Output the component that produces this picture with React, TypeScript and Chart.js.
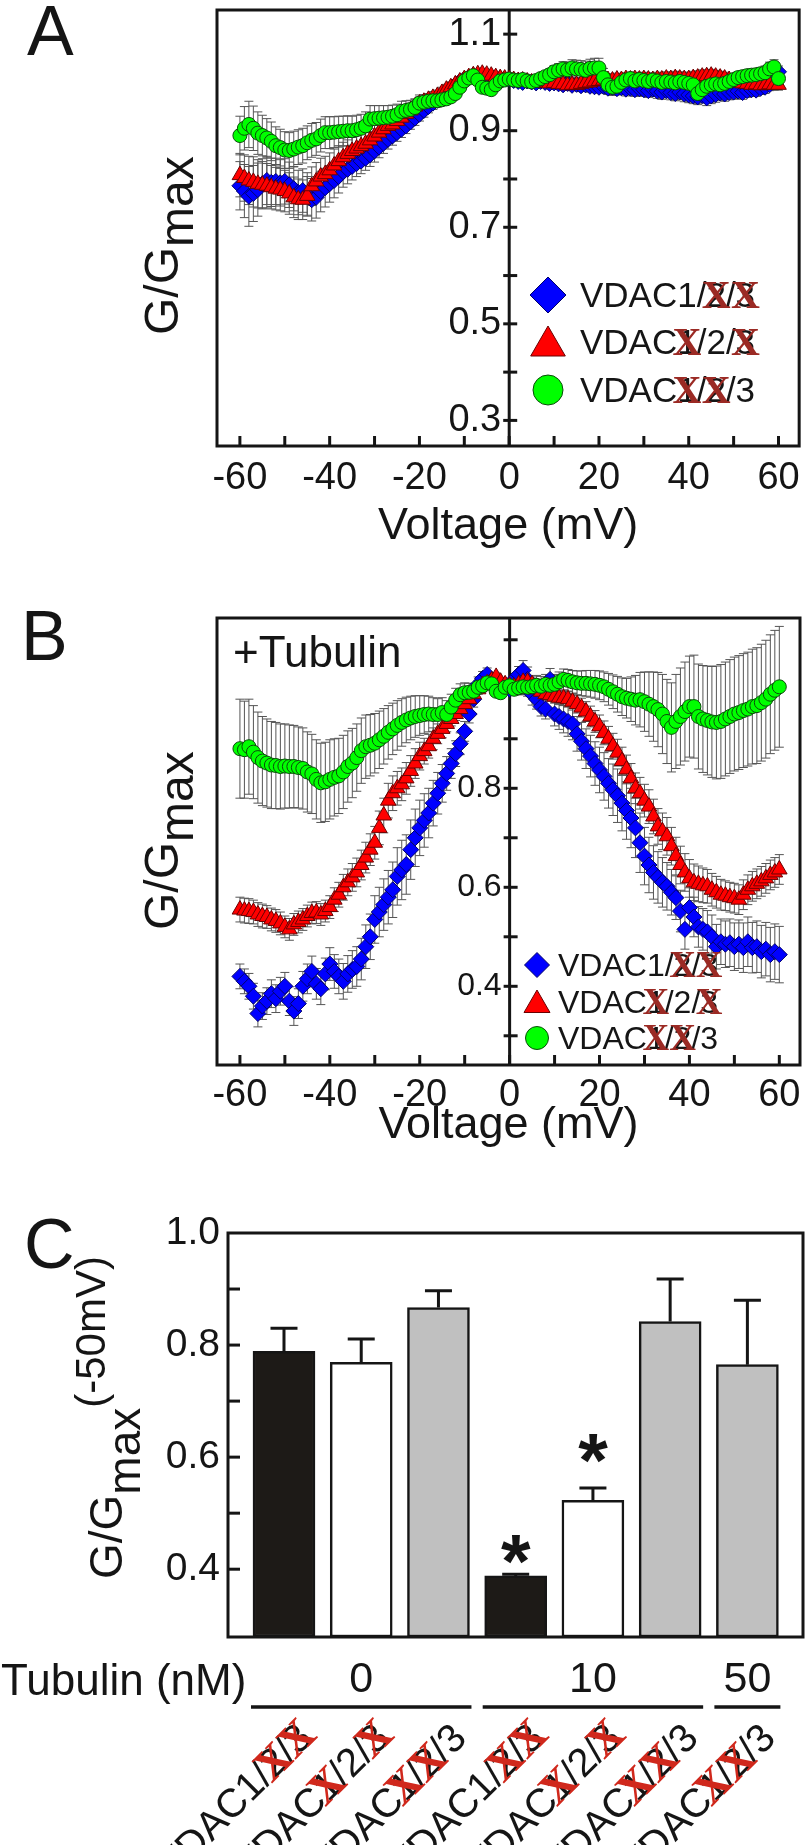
import React, { useEffect, useRef } from 'react';
import { Chart, registerables } from 'chart.js';

Chart.register(...registerables);

const FONT = "'Liberation Sans', Arial, Helvetica, sans-serif";
const SERIF = "'Liberation Serif', 'Times New Roman', serif";
const INK = '#151515';

// ---------------- DATA ----------------
const VOLTAGES = [
  -60, -59, -58, -57, -56, -55, -54, -53, -52, -51, -50, -49, -48, -47, -46, -45, -44, -43, -42, -41,
  -40, -39, -38, -37, -36, -35, -34, -33, -32, -31, -30, -29, -28, -27, -26, -25, -24, -23, -22, -21,
  -20, -19, -18, -17, -16, -15, -14, -13, -12, -11, -10, -9, -8, -7, -6, -5, -4, -3, -2, -1,
  0, 1, 2, 3, 4, 5, 6, 7, 8, 9, 10, 11, 12, 13, 14, 15, 16, 17, 18, 19,
  20, 21, 22, 23, 24, 25, 26, 27, 28, 29, 30, 31, 32, 33, 34, 35, 36, 37, 38, 39,
  40, 41, 42, 43, 44, 45, 46, 47, 48, 49, 50, 51, 52, 53, 54, 55, 56, 57, 58, 59, 60,
];

// Panel A (no tubulin)
const A_VDAC1 = [
  0.786, 0.775, 0.764, 0.770, 0.778, 0.790, 0.797, 0.793, 0.795, 0.792,
  0.795, 0.788, 0.780, 0.772, 0.776, 0.768, 0.757, 0.762, 0.774, 0.782,
  0.790, 0.797, 0.805, 0.815, 0.820, 0.826, 0.832, 0.837, 0.843, 0.850,
  0.858, 0.866, 0.874, 0.882, 0.889, 0.896, 0.903, 0.910, 0.918, 0.926,
  0.934, 0.942, 0.950, 0.957, 0.963, 0.968, 0.975, 0.985, 0.995, 1.002,
  1.007, 1.011, 1.014, 1.012, 1.010, 1.008, 1.007, 1.006, 1.008, 1.007,
  1.007, 1.004, 1.002, 1.000, 1.003, 1.001, 0.999, 1.002, 1.000, 0.998,
  0.999, 0.997, 0.995, 0.998, 0.994, 0.996, 0.993, 0.995, 0.992, 0.991,
  0.990, 0.992, 0.988, 0.990, 0.987, 0.989, 0.986, 0.988, 0.985, 0.987,
  0.985, 0.983, 0.986, 0.982, 0.980, 0.983, 0.979, 0.977, 0.980, 0.976,
  0.974, 0.972, 0.970, 0.973, 0.968, 0.972, 0.975, 0.978, 0.976, 0.979,
  0.980, 0.982, 0.979, 0.983, 0.985, 0.984, 0.988, 0.990, 0.995, 1.010,
  1.022,
];
const A_VDAC1_ERR = [
  0.050, 0.055, 0.062, 0.058, 0.055, 0.052, 0.050, 0.050, 0.048, 0.048,
  0.047, 0.047, 0.046, 0.046, 0.045, 0.045, 0.044, 0.043, 0.042, 0.040,
  0.038, 0.036, 0.034, 0.032, 0.030, 0.028, 0.027, 0.026, 0.025, 0.024,
  0.023, 0.022, 0.021, 0.020, 0.019, 0.018, 0.017, 0.016, 0.015, 0.015,
  0.014, 0.014, 0.013, 0.013, 0.012, 0.012, 0.011, 0.011, 0.010, 0.010,
  0.009, 0.009, 0.008, 0.008, 0.008, 0.007, 0.007, 0.006, 0.006, 0.005,
  0.004, 0.005, 0.006, 0.006, 0.007, 0.007, 0.008, 0.008, 0.009, 0.009,
  0.010, 0.010, 0.010, 0.011, 0.011, 0.011, 0.012, 0.012, 0.012, 0.012,
  0.012, 0.013, 0.013, 0.013, 0.013, 0.013, 0.014, 0.014, 0.014, 0.014,
  0.014, 0.014, 0.015, 0.015, 0.015, 0.015, 0.015, 0.015, 0.016, 0.016,
  0.016, 0.016, 0.016, 0.016, 0.016, 0.016, 0.016, 0.015, 0.015, 0.015,
  0.015, 0.015, 0.014, 0.014, 0.014, 0.013, 0.013, 0.013, 0.012, 0.012,
  0.012,
];
const A_VDAC2 = [
  0.808, 0.802, 0.797, 0.794, 0.790, 0.788, 0.786, 0.783, 0.780, 0.778,
  0.775, 0.770, 0.762, 0.758, 0.757, 0.765, 0.785, 0.795, 0.805, 0.810,
  0.818, 0.828, 0.837, 0.845, 0.852, 0.858, 0.863, 0.868, 0.873, 0.880,
  0.888, 0.896, 0.903, 0.910, 0.913, 0.920, 0.927, 0.935, 0.942, 0.950,
  0.956, 0.960, 0.964, 0.968, 0.972, 0.978, 0.985, 0.990, 0.996, 1.002,
  1.007, 1.011, 1.015, 1.017, 1.018, 1.016, 1.014, 1.011, 1.009, 1.008,
  1.007, 1.005, 1.003, 1.004, 1.002, 1.000, 1.001, 0.999, 1.000, 0.998,
  0.999, 0.997, 0.996, 0.994, 0.995, 0.995, 0.997, 0.999, 1.000, 1.002,
  1.003, 1.004, 1.005, 1.004, 1.006, 1.005, 1.007, 1.006, 1.007, 1.006,
  1.007, 1.006, 1.005, 1.007, 1.006, 1.008, 1.007, 1.009, 1.008, 1.007,
  1.007, 1.009, 1.010, 1.012, 1.013, 1.014, 1.012, 1.010, 1.008, 1.005,
  1.003, 1.000, 0.998, 0.997, 0.995, 0.996, 0.994, 0.995, 0.996, 0.995,
  0.995,
];
const A_VDAC2_ERR = [
  0.045, 0.048, 0.050, 0.052, 0.050, 0.048, 0.046, 0.045, 0.044, 0.044,
  0.043, 0.043, 0.042, 0.042, 0.041, 0.040, 0.040, 0.039, 0.038, 0.037,
  0.036, 0.034, 0.032, 0.031, 0.029, 0.028, 0.027, 0.026, 0.025, 0.024,
  0.023, 0.022, 0.021, 0.020, 0.019, 0.018, 0.017, 0.016, 0.015, 0.015,
  0.014, 0.014, 0.013, 0.013, 0.012, 0.012, 0.011, 0.011, 0.010, 0.010,
  0.009, 0.009, 0.008, 0.008, 0.007, 0.007, 0.006, 0.006, 0.005, 0.005,
  0.004, 0.005, 0.005, 0.006, 0.006, 0.007, 0.007, 0.008, 0.008, 0.009,
  0.009, 0.010, 0.010, 0.010, 0.011, 0.011, 0.011, 0.012, 0.012, 0.012,
  0.012, 0.012, 0.013, 0.013, 0.013, 0.013, 0.013, 0.013, 0.014, 0.014,
  0.014, 0.014, 0.014, 0.014, 0.014, 0.014, 0.014, 0.014, 0.014, 0.014,
  0.014, 0.014, 0.014, 0.014, 0.013, 0.013, 0.013, 0.013, 0.013, 0.013,
  0.012, 0.012, 0.012, 0.012, 0.012, 0.011, 0.011, 0.011, 0.011, 0.011,
  0.011,
];
const A_VDAC3 = [
  0.890, 0.905, 0.913, 0.905, 0.895, 0.890, 0.885, 0.878, 0.869, 0.865,
  0.860, 0.859, 0.862, 0.866, 0.869, 0.875, 0.880, 0.883, 0.890, 0.896,
  0.896, 0.897, 0.898, 0.899, 0.900, 0.900, 0.902, 0.905, 0.910, 0.924,
  0.925, 0.926, 0.927, 0.928, 0.930, 0.933, 0.940, 0.942, 0.944, 0.948,
  0.957, 0.959, 0.961, 0.962, 0.962, 0.964, 0.966, 0.970, 0.977, 0.990,
  1.003, 1.009, 1.014, 1.005, 0.990, 0.988, 0.985, 0.995, 1.003, 1.005,
  1.007, 1.005, 1.004, 1.006, 1.003, 1.001, 1.004, 1.008, 1.012, 1.016,
  1.022, 1.025, 1.028, 1.026, 1.030, 1.028, 1.027, 1.025, 1.029, 1.030,
  1.030, 1.010, 0.995, 0.990, 0.992, 1.000, 1.005, 1.008, 1.003, 1.006,
  1.004, 1.002, 1.005, 1.003, 1.000, 1.002, 1.001, 0.999, 1.002, 1.000,
  0.998, 0.995, 0.977, 0.985, 0.992, 0.995, 0.997, 0.995, 0.998, 1.002,
  1.006, 1.010, 1.012, 1.014, 1.015, 1.016, 1.018, 1.020, 1.028, 1.032,
  1.008,
];
const A_VDAC3_ERR = [
  0.040, 0.045, 0.048, 0.046, 0.044, 0.042, 0.040, 0.040, 0.039, 0.038,
  0.038, 0.037, 0.037, 0.036, 0.036, 0.035, 0.035, 0.034, 0.034, 0.033,
  0.033, 0.032, 0.032, 0.031, 0.031, 0.030, 0.030, 0.029, 0.029, 0.028,
  0.027, 0.026, 0.025, 0.024, 0.023, 0.022, 0.021, 0.020, 0.019, 0.018,
  0.017, 0.016, 0.015, 0.014, 0.013, 0.012, 0.011, 0.010, 0.009, 0.009,
  0.008, 0.008, 0.007, 0.007, 0.006, 0.006, 0.005, 0.005, 0.004, 0.004,
  0.003, 0.004, 0.005, 0.006, 0.007, 0.008, 0.009, 0.010, 0.011, 0.012,
  0.013, 0.014, 0.015, 0.016, 0.017, 0.018, 0.018, 0.019, 0.019, 0.020,
  0.020, 0.019, 0.018, 0.017, 0.016, 0.015, 0.014, 0.013, 0.013, 0.012,
  0.012, 0.011, 0.011, 0.010, 0.010, 0.010, 0.010, 0.010, 0.011, 0.011,
  0.011, 0.012, 0.012, 0.012, 0.013, 0.013, 0.013, 0.013, 0.012, 0.012,
  0.012, 0.012, 0.012, 0.012, 0.013, 0.013, 0.013, 0.014, 0.014, 0.015,
  0.015,
];

// Panel B (+ tubulin)
const B_VDAC1 = [
  0.420, 0.410, 0.400, 0.380, 0.345, 0.360, 0.370, 0.385, 0.375, 0.390,
  0.400, 0.370, 0.350, 0.365, 0.400, 0.415, 0.430, 0.405, 0.395, 0.425,
  0.445, 0.430, 0.420, 0.410, 0.425, 0.434, 0.440, 0.455, 0.480, 0.500,
  0.535, 0.550, 0.565, 0.580, 0.595, 0.622, 0.635, 0.646, 0.676, 0.700,
  0.720, 0.735, 0.750, 0.770, 0.790, 0.810, 0.830, 0.850, 0.870, 0.890,
  0.915, 0.950, 0.980, 1.010, 1.022, 1.030, 1.018, 1.011, 1.007, 1.003,
  1.000, 1.020, 1.030, 1.038, 1.020, 0.990, 0.980, 0.965, 0.960, 1.020,
  0.950, 0.945, 0.940, 0.935, 0.930, 0.910, 0.895, 0.880, 0.865, 0.850,
  0.837, 0.824, 0.810, 0.797, 0.785, 0.770, 0.755, 0.740, 0.720, 0.690,
  0.663, 0.645, 0.630, 0.620, 0.610, 0.602, 0.590, 0.579, 0.552, 0.515,
  0.559, 0.540, 0.520, 0.515, 0.510, 0.500, 0.480, 0.490, 0.485, 0.488,
  0.480, 0.485, 0.478, 0.490, 0.478, 0.480, 0.470, 0.475, 0.464, 0.470,
  0.464,
];
const B_VDAC1_ERR = [
  0.025, 0.025, 0.026, 0.026, 0.027, 0.027, 0.027, 0.028, 0.028, 0.028,
  0.028, 0.029, 0.029, 0.030, 0.030, 0.030, 0.031, 0.031, 0.032, 0.032,
  0.033, 0.034, 0.035, 0.036, 0.037, 0.038, 0.040, 0.042, 0.044, 0.046,
  0.048, 0.050, 0.052, 0.054, 0.056, 0.058, 0.060, 0.060, 0.060, 0.058,
  0.056, 0.054, 0.050, 0.046, 0.042, 0.038, 0.034, 0.030, 0.026, 0.022,
  0.020, 0.018, 0.016, 0.015, 0.014, 0.013, 0.012, 0.011, 0.010, 0.010,
  0.010, 0.012, 0.016, 0.020, 0.025, 0.022, 0.020, 0.019, 0.020, 0.022,
  0.024, 0.026, 0.028, 0.030, 0.032, 0.035, 0.038, 0.040, 0.042, 0.044,
  0.046, 0.048, 0.050, 0.052, 0.054, 0.056, 0.058, 0.060, 0.060, 0.060,
  0.058, 0.056, 0.054, 0.052, 0.050, 0.048, 0.046, 0.044, 0.042, 0.040,
  0.040, 0.040, 0.041, 0.042, 0.043, 0.044, 0.045, 0.046, 0.047, 0.048,
  0.048, 0.049, 0.050, 0.050, 0.051, 0.052, 0.053, 0.054, 0.055, 0.056,
  0.057,
];
const B_VDAC2 = [
  0.555, 0.553, 0.552, 0.550, 0.545, 0.542, 0.540, 0.535, 0.532, 0.527,
  0.520, 0.515, 0.525, 0.530, 0.535, 0.542, 0.548, 0.549, 0.545, 0.552,
  0.560, 0.575, 0.585, 0.600, 0.610, 0.620, 0.630, 0.645, 0.660, 0.676,
  0.690, 0.720, 0.745, 0.775, 0.790, 0.800, 0.808, 0.820, 0.835, 0.850,
  0.865, 0.875, 0.885, 0.900, 0.910, 0.920, 0.930, 0.940, 0.950, 0.960,
  0.970, 0.980, 0.990, 1.000, 1.008, 1.012, 1.018, 1.025, 1.015, 1.010,
  1.007, 1.005, 1.010, 1.015, 1.015, 1.010, 1.000, 0.995, 0.990, 0.988,
  0.985, 0.983, 0.982, 0.980, 0.975, 0.970, 0.963, 0.955, 0.945, 0.935,
  0.925, 0.912, 0.900, 0.885, 0.872, 0.855, 0.838, 0.820, 0.800, 0.790,
  0.775, 0.763, 0.743, 0.723, 0.713, 0.703, 0.683, 0.663, 0.645, 0.630,
  0.618, 0.610, 0.607, 0.604, 0.602, 0.595, 0.590, 0.585, 0.583, 0.580,
  0.578, 0.575, 0.585, 0.595, 0.602, 0.607, 0.612, 0.618, 0.625, 0.630,
  0.636,
];
const B_VDAC2_ERR = [
  0.025, 0.025, 0.025, 0.024, 0.024, 0.024, 0.023, 0.023, 0.023, 0.023,
  0.022, 0.022, 0.022, 0.022, 0.022, 0.022, 0.022, 0.022, 0.022, 0.022,
  0.023, 0.024, 0.025, 0.026, 0.027, 0.028, 0.029, 0.030, 0.031, 0.032,
  0.033, 0.034, 0.035, 0.035, 0.035, 0.034, 0.033, 0.032, 0.031, 0.030,
  0.028, 0.026, 0.024, 0.022, 0.020, 0.018, 0.016, 0.014, 0.013, 0.012,
  0.011, 0.010, 0.010, 0.009, 0.009, 0.008, 0.008, 0.008, 0.008, 0.008,
  0.008, 0.008, 0.009, 0.009, 0.010, 0.010, 0.011, 0.011, 0.012, 0.012,
  0.013, 0.014, 0.015, 0.016, 0.017, 0.018, 0.019, 0.020, 0.021, 0.022,
  0.023, 0.024, 0.025, 0.026, 0.027, 0.028, 0.029, 0.030, 0.031, 0.032,
  0.033, 0.034, 0.035, 0.036, 0.037, 0.038, 0.038, 0.038, 0.038, 0.038,
  0.038, 0.037, 0.036, 0.035, 0.034, 0.033, 0.032, 0.031, 0.030, 0.030,
  0.030, 0.030, 0.030, 0.030, 0.030, 0.030, 0.030, 0.030, 0.030, 0.030,
  0.030,
];
const B_VDAC3 = [
  0.880, 0.878, 0.884, 0.873, 0.862, 0.855, 0.851, 0.847, 0.846, 0.844,
  0.845, 0.844, 0.844, 0.842, 0.840, 0.833, 0.829, 0.818, 0.811, 0.813,
  0.818, 0.822, 0.825, 0.833, 0.844, 0.851, 0.862, 0.876, 0.884, 0.887,
  0.891, 0.898, 0.905, 0.913, 0.920, 0.927, 0.933, 0.938, 0.942, 0.945,
  0.947, 0.949, 0.950, 0.949, 0.949, 0.953, 0.949, 0.964, 0.978, 0.989,
  0.993, 0.994, 0.996, 1.004, 1.007, 1.013, 1.011, 0.996, 0.993, 1.004,
  1.007, 1.000, 1.003, 1.005, 1.004, 1.005, 1.008, 1.006, 1.010, 1.008,
  1.010, 1.015, 1.020, 1.018, 1.015, 1.013, 1.012, 1.012, 1.011, 1.010,
  1.008, 1.005, 1.000, 0.995, 0.990, 0.985, 0.982, 0.980, 0.978, 0.979,
  0.975, 0.970, 0.965, 0.959, 0.950, 0.935, 0.923, 0.935, 0.945, 0.955,
  0.965, 0.965, 0.945, 0.940, 0.937, 0.934, 0.933, 0.935, 0.940, 0.945,
  0.950, 0.953, 0.957, 0.960, 0.965, 0.967, 0.973, 0.980, 0.990, 0.998,
  1.005,
];
const B_VDAC3_ERR = [
  0.100, 0.098, 0.096, 0.094, 0.092, 0.090, 0.089, 0.088, 0.087, 0.086,
  0.085, 0.084, 0.083, 0.082, 0.082, 0.081, 0.080, 0.080, 0.080, 0.080,
  0.080, 0.078, 0.076, 0.074, 0.072, 0.070, 0.068, 0.066, 0.064, 0.062,
  0.060, 0.058, 0.056, 0.054, 0.052, 0.050, 0.048, 0.046, 0.044, 0.042,
  0.040, 0.038, 0.036, 0.034, 0.032, 0.030, 0.028, 0.026, 0.024, 0.022,
  0.020, 0.018, 0.016, 0.014, 0.012, 0.010, 0.010, 0.010, 0.010, 0.010,
  0.010, 0.012, 0.014, 0.016, 0.018, 0.020, 0.020, 0.020, 0.020, 0.020,
  0.020, 0.020, 0.021, 0.022, 0.023, 0.024, 0.025, 0.026, 0.027, 0.028,
  0.029, 0.030, 0.032, 0.034, 0.036, 0.038, 0.040, 0.045, 0.050, 0.055,
  0.060, 0.065, 0.070, 0.075, 0.080, 0.085, 0.090, 0.095, 0.098, 0.100,
  0.102, 0.104, 0.106, 0.108, 0.110, 0.112, 0.114, 0.115, 0.115, 0.115,
  0.115, 0.115, 0.115, 0.115, 0.116, 0.117, 0.118, 0.119, 0.120, 0.121,
  0.122,
];

const X_TICK_LABELS = [-60, -40, -20, 0, 20, 40, 60];
const X_TICK_MARKS = [-60, -50, -40, -30, -20, -10, 0, 10, 20, 30, 40, 50, 60];
const A_Y_TICK_LABELS = [0.3, 0.5, 0.7, 0.9, 1.1];
const A_Y_TICK_MARKS = [0.3, 0.4, 0.5, 0.6, 0.7, 0.8, 0.9, 1.0, 1.1];
const B_Y_TICK_LABELS = [0.4, 0.6, 0.8];
const B_Y_TICK_MARKS = [0.3, 0.4, 0.5, 0.6, 0.7, 0.8, 0.9, 1.0, 1.1];

// Panel C
const C_ISOFORM = ['1', '2', '3', '1', '2', '3', '3'];
const C_VALUES = [0.789, 0.769, 0.867, 0.388, 0.523, 0.842, 0.765];
const C_ERR_TOP = [0.830, 0.811, 0.897, 0.391, 0.545, 0.918, 0.880];
const C_SIGNIFICANT = [false, false, false, true, true, false, false];
const C_TUBULIN_LABELS = ['0', '10', '50'];
const C_TUBULIN_FIRST = [0, 3, 6];
const C_TUBULIN_LAST = [2, 5, 6];
const C_Y_TICK_LABELS = [0.4, 0.6, 0.8, 1.0];
const C_Y_TICK_MARKS = [0.4, 0.5, 0.6, 0.7, 0.8, 0.9];

const LEGEND_ISOFORMS = ['1', '2', '3'];

// ---------------- STYLE ----------------
const SERIES_STYLE = [
  { style: 'rectRot', fill: '#0000ff', stroke: '#00006a', r: 8, order: 3 },
  { style: 'triangle', fill: '#ff0000', stroke: '#6a0000', r: 9, order: 2 },
  { style: 'circle', fill: '#00ff00', stroke: '#0a4a0a', r: 7, order: 1 },
];
const C_FILLS = ['#1d1a17', '#ffffff', '#c0c0c0', '#1d1a17', '#ffffff', '#c0c0c0', '#c0c0c0'];
const STAR_GAP_PX = [0, 0, 0, 21, 36, 0, 0]; // distance from cap to asterisk centre

// ---------------- HELPERS ----------------
const ISO_TEXT = 'VDAC1/2/3';
const DIGIT_INDEX: Record<string, number> = { '1': 4, '2': 6, '3': 8 };

function drawIsoformLabel(ctx: CanvasRenderingContext2D, x: number, y: number, size: number, keep: string, xColor: string, xScale: number) {
  ctx.save();
  ctx.font = `${size}px ${FONT}`;
  ctx.fillStyle = INK;
  ctx.textAlign = 'left';
  ctx.textBaseline = 'alphabetic';
  ctx.fillText(ISO_TEXT, x, y);
  const centers = ['1', '2', '3']
    .filter((d) => d !== keep)
    .map((d) => {
      const i = DIGIT_INDEX[d];
      const pre = ctx.measureText(ISO_TEXT.slice(0, i)).width;
      const dw = ctx.measureText(d).width;
      return x + pre + dw / 2;
    });
  ctx.font = `bold ${Math.round(size * xScale)}px ${SERIF}`;
  ctx.fillStyle = xColor;
  ctx.textAlign = 'center';
  centers.forEach((cx) => ctx.fillText('X', cx, y + 1));
  ctx.restore();
}

function drawMarker(ctx: CanvasRenderingContext2D, style: string, x: number, y: number, r: number, fill: string, stroke: string) {
  ctx.beginPath();
  if (style === 'circle') {
    ctx.arc(x, y, r, 0, Math.PI * 2);
  } else if (style === 'rectRot') {
    ctx.moveTo(x - r, y);
    ctx.lineTo(x, y - r);
    ctx.lineTo(x + r, y);
    ctx.lineTo(x, y + r);
    ctx.closePath();
  } else {
    ctx.moveTo(x, y - r);
    ctx.lineTo(x + 0.866 * r, y + 0.5 * r);
    ctx.lineTo(x - 0.866 * r, y + 0.5 * r);
    ctx.closePath();
  }
  ctx.fillStyle = fill;
  ctx.fill();
  ctx.lineWidth = 1;
  ctx.strokeStyle = stroke;
  ctx.stroke();
}

function drawYTitle(ctx: CanvasRenderingContext2D, x: number, y: number, size: number, subShift: number, suffix?: string, suffixSize?: number, suffixShift?: number) {
  ctx.save();
  ctx.translate(x, y);
  ctx.rotate(-Math.PI / 2);
  ctx.fillStyle = INK;
  ctx.textAlign = 'left';
  ctx.textBaseline = 'alphabetic';
  ctx.font = `${size}px ${FONT}`;
  ctx.fillText('G/G', 0, 0);
  const w1 = ctx.measureText('G/G').width;
  ctx.fillText('max', w1, subShift);
  const w2 = ctx.measureText('max').width;
  if (suffix) {
    ctx.font = `${suffixSize}px ${FONT}`;
    ctx.fillText(suffix, w1 + w2, suffixShift || 0);
  }
  ctx.restore();
}

type PanelCfg = {
  letter: string;
  letterPos: [number, number];
  yTickMarks: number[];
  yTickLabels: number[];
  yTickFont: number;
  yTitlePos: [number, number];
  yTitleFont: number;
  subShift: number;
  legendMarkerX: number;
  legendTextX: number;
  legendRows: number[];
  legendFont: number;
  legendSizes: number[];
  note?: { text: string; x: number; y: number; font: number };
};

function makeVoltagePlugin(cfg: PanelCfg) {
  return {
    id: 'voltagePanel',
    beforeDatasetsDraw(chart: any) {
      const { ctx, chartArea: a } = chart;
      const xs = chart.scales.x;
      const ys = chart.scales.y;
      ctx.save();
      // error bars
      ctx.strokeStyle = '#555555';
      ctx.lineWidth = 1;
      chart.data.datasets.forEach((ds: any) => {
        const errs = ds.errors as number[];
        ds.data.forEach((p: any, j: number) => {
          const px = xs.getPixelForValue(p.x);
          const t = ys.getPixelForValue(p.y + errs[j]);
          const b = ys.getPixelForValue(p.y - errs[j]);
          ctx.beginPath();
          ctx.moveTo(px, t);
          ctx.lineTo(px, b);
          ctx.moveTo(px - 4.5, t);
          ctx.lineTo(px + 4.5, t);
          ctx.moveTo(px - 4.5, b);
          ctx.lineTo(px + 4.5, b);
          ctx.stroke();
        });
      });
      // zero axis line and ticks
      const x0 = xs.getPixelForValue(0);
      ctx.strokeStyle = INK;
      ctx.lineWidth = 3;
      ctx.beginPath();
      ctx.moveTo(x0, a.top);
      ctx.lineTo(x0, a.bottom);
      ctx.stroke();
      cfg.yTickMarks.forEach((v) => {
        const py = ys.getPixelForValue(v);
        ctx.beginPath();
        ctx.moveTo(x0 - 6, py);
        ctx.lineTo(x0 + 8, py);
        ctx.stroke();
      });
      X_TICK_MARKS.forEach((v) => {
        const px = xs.getPixelForValue(v);
        ctx.beginPath();
        ctx.moveTo(px, a.bottom);
        ctx.lineTo(px, a.bottom - 10);
        ctx.stroke();
      });
      ctx.restore();
    },
    afterDatasetsDraw(chart: any) {
      const { ctx, chartArea: a } = chart;
      const xs = chart.scales.x;
      const ys = chart.scales.y;
      const x0 = xs.getPixelForValue(0);
      ctx.save();
      // frame
      ctx.strokeStyle = INK;
      ctx.lineWidth = 3;
      ctx.strokeRect(a.left, a.top, a.right - a.left, a.bottom - a.top);
      // y tick labels
      ctx.fillStyle = INK;
      ctx.font = `${cfg.yTickFont}px ${FONT}`;
      ctx.textAlign = 'right';
      ctx.textBaseline = 'middle';
      cfg.yTickLabels.forEach((v) => {
        ctx.fillText(v.toFixed(1), x0 - 8, ys.getPixelForValue(v));
      });
      // legend
      SERIES_STYLE.forEach((s, i) => {
        const ry = cfg.legendRows[i];
        const dy = s.style === 'triangle' ? cfg.legendSizes[i] * 0.2 : 0;
        drawMarker(ctx, s.style, cfg.legendMarkerX, ry + dy, cfg.legendSizes[i], s.fill, s.stroke);
        drawIsoformLabel(ctx, cfg.legendTextX, ry + cfg.legendFont * 0.35, cfg.legendFont, LEGEND_ISOFORMS[i], '#9b2a24', 1.15);
      });
      // panel letter
      ctx.fillStyle = INK;
      ctx.font = `70px ${FONT}`;
      ctx.textAlign = 'left';
      ctx.textBaseline = 'alphabetic';
      ctx.fillText(cfg.letter, cfg.letterPos[0], cfg.letterPos[1]);
      // note
      if (cfg.note) {
        ctx.font = `${cfg.note.font}px ${FONT}`;
        ctx.fillText(cfg.note.text, cfg.note.x, cfg.note.y);
      }
      drawYTitle(ctx, cfg.yTitlePos[0], cfg.yTitlePos[1], cfg.yTitleFont, cfg.subShift);
      ctx.restore();
    },
  };
}

function voltageConfig(values: number[][], errors: number[][], yMin: number, yMax: number, padTop: number, axisHeight: number, tickPad: number, titlePad: number, plugin: any) {
  const names = ['VDAC1', 'VDAC2', 'VDAC3'];
  return {
    type: 'scatter',
    data: {
      datasets: values.map((vals, k) => ({
        label: names[k],
        data: VOLTAGES.map((v, i) => ({ x: v, y: vals[i] })),
        errors: errors[k],
        pointStyle: SERIES_STYLE[k].style,
        pointRadius: SERIES_STYLE[k].r,
        pointBackgroundColor: SERIES_STYLE[k].fill,
        pointBorderColor: SERIES_STYLE[k].stroke,
        pointBorderWidth: 1,
        showLine: false,
        order: SERIES_STYLE[k].order,
      })),
    },
    options: {
      animation: false,
      responsive: false,
      maintainAspectRatio: false,
      devicePixelRatio: 1,
      events: [],
      layout: { padding: { left: 217, right: 7, top: padTop, bottom: 0 } },
      plugins: { legend: { display: false }, tooltip: { enabled: false }, title: { display: false } },
      scales: {
        x: {
          type: 'linear',
          position: 'bottom',
          min: -65.1,
          max: 64.6,
          grid: { display: false, drawTicks: false },
          border: { display: false },
          afterBuildTicks: (s: any) => {
            s.ticks = X_TICK_LABELS.map((v) => ({ value: v }));
          },
          afterFit: (s: any) => {
            s.height = axisHeight;
          },
          ticks: {
            font: { family: FONT, size: 38 },
            color: INK,
            padding: tickPad,
            maxRotation: 0,
            autoSkip: false,
            callback: (v: any) => String(v),
          },
          title: {
            display: true,
            text: 'Voltage (mV)',
            font: { family: FONT, size: 45 },
            color: INK,
            padding: { top: 0, bottom: titlePad },
          },
        },
        y: { type: 'linear', min: yMin, max: yMax, display: false },
      },
    },
    plugins: [plugin],
  };
}

const barPlugin = {
  id: 'barPanel',
  afterDatasetsDraw(chart: any) {
    const { ctx, chartArea: a } = chart;
    const xs = chart.scales.x;
    const ys = chart.scales.y;
    ctx.save();
    ctx.strokeStyle = INK;
    ctx.fillStyle = INK;
    // error bars (upper)
    ctx.lineWidth = 3;
    C_VALUES.forEach((v, i) => {
      const px = xs.getPixelForValue(i);
      const t = ys.getPixelForValue(C_ERR_TOP[i]);
      const b = ys.getPixelForValue(v);
      ctx.beginPath();
      ctx.moveTo(px, b);
      ctx.lineTo(px, t);
      ctx.moveTo(px - 13.5, t);
      ctx.lineTo(px + 13.5, t);
      ctx.stroke();
      if (C_SIGNIFICANT[i]) {
        ctx.font = `bold 76px ${FONT}`;
        ctx.textAlign = 'center';
        ctx.textBaseline = 'alphabetic';
        ctx.fillText('*', px, t - STAR_GAP_PX[i] + 34);
      }
    });
    // frame
    ctx.lineWidth = 3;
    ctx.strokeRect(a.left, a.top, a.right - a.left, a.bottom - a.top);
    // inward y ticks
    C_Y_TICK_MARKS.forEach((v) => {
      const py = ys.getPixelForValue(v);
      ctx.beginPath();
      ctx.moveTo(a.left, py);
      ctx.lineTo(a.left + 12, py);
      ctx.stroke();
    });
    // letter
    ctx.font = `70px ${FONT}`;
    ctx.textAlign = 'left';
    ctx.textBaseline = 'alphabetic';
    ctx.fillText('C', 24, 88);
    // y title
    drawYTitle(ctx, 122, 399, 46, 18, '(-50mV)', 42, -17);
    // tubulin row
    const rowY = 515;
    const lineY = 527;
    ctx.font = `44px ${FONT}`;
    ctx.textAlign = 'left';
    ctx.fillText('Tubulin (nM)', 1, rowY);
    ctx.textAlign = 'center';
    ctx.font = `43px ${FONT}`;
    ctx.lineWidth = 3.5;
    C_TUBULIN_LABELS.forEach((lab, g) => {
      const x1 = xs.getPixelForValue(C_TUBULIN_FIRST[g]) - 33;
      const x2 = xs.getPixelForValue(C_TUBULIN_LAST[g]) + 33;
      ctx.fillText(lab, (x1 + x2) / 2, rowY - 3);
      ctx.beginPath();
      ctx.moveTo(x1, lineY);
      ctx.lineTo(x2, lineY);
      ctx.stroke();
    });
    // rotated category labels
    ctx.font = `40px ${FONT}`;
    const w = ctx.measureText(ISO_TEXT).width;
    C_ISOFORM.forEach((keep, i) => {
      const px = xs.getPixelForValue(i);
      ctx.save();
      ctx.translate(px + 30, 560);
      ctx.rotate(-Math.PI / 4);
      drawIsoformLabel(ctx, -w, 0, 40, keep, '#d0281c', 1.15);
      ctx.restore();
    });
    ctx.restore();
  },
};

function barConfig() {
  return {
    type: 'bar',
    data: {
      datasets: [
        {
          label: 'G/Gmax(-50mV)',
          data: C_VALUES.map((v, i) => ({ x: i, y: v })),
          backgroundColor: C_FILLS,
          borderColor: INK,
          borderWidth: 2.5,
          borderSkipped: false,
          barThickness: 62,
          base: 0.279,
        },
      ],
    },
    options: {
      animation: false,
      responsive: false,
      maintainAspectRatio: false,
      devicePixelRatio: 1,
      events: [],
      layout: { padding: { left: 0, right: 7, top: 53, bottom: 208 } },
      plugins: { legend: { display: false }, tooltip: { enabled: false } },
      scales: {
        x: { type: 'linear', min: -0.725, max: 6.72, display: false, offset: false },
        y: {
          type: 'linear',
          position: 'left',
          min: 0.279,
          max: 1.0,
          grid: { display: false, drawTicks: false },
          border: { display: false },
          afterFit: (s: any) => {
            s.width = 228;
          },
          afterBuildTicks: (s: any) => {
            s.ticks = C_Y_TICK_LABELS.map((v) => ({ value: v }));
          },
          ticks: {
            font: { family: FONT, size: 39 },
            color: INK,
            padding: 8,
            callback: (v: any) => Number(v).toFixed(1),
          },
        },
      },
    },
    plugins: [barPlugin],
  };
}

export default function App() {
  const refA = useRef<HTMLCanvasElement>(null);
  const refB = useRef<HTMLCanvasElement>(null);
  const refC = useRef<HTMLCanvasElement>(null);

  useEffect(() => {
    const pluginA = makeVoltagePlugin({
      letter: 'A',
      letterPos: [27, 55],
      yTickMarks: A_Y_TICK_MARKS,
      yTickLabels: A_Y_TICK_LABELS,
      yTickFont: 38,
      yTitlePos: [178, 335],
      yTitleFont: 48,
      subShift: 15,
      legendMarkerX: 548,
      legendTextX: 580,
      legendRows: [295, 342, 390],
      legendFont: 35,
      legendSizes: [18, 20, 15],
    });
    const pluginB = makeVoltagePlugin({
      letter: 'B',
      letterPos: [21, 100],
      yTickMarks: B_Y_TICK_MARKS,
      yTickLabels: B_Y_TICK_LABELS,
      yTickFont: 32,
      yTitlePos: [178, 370],
      yTitleFont: 48,
      subShift: 15,
      legendMarkerX: 537,
      legendTextX: 558,
      legendRows: [405, 442, 478],
      legendFont: 32,
      legendSizes: [12.5, 15, 11.5],
      note: { text: '+Tubulin', x: 233, y: 107, font: 44 },
    });
    const cA = new Chart(
      refA.current as HTMLCanvasElement,
      voltageConfig([A_VDAC1, A_VDAC2, A_VDAC3], [A_VDAC1_ERR, A_VDAC2_ERR, A_VDAC3_ERR], 0.247, 1.15, 2, 114, 10, 6, pluginA) as any
    );
    const cB = new Chart(
      refB.current as HTMLCanvasElement,
      voltageConfig([B_VDAC1, B_VDAC2, B_VDAC3], [B_VDAC1_ERR, B_VDAC2_ERR, B_VDAC3_ERR], 0.241, 1.144, 58, 115, 8, 27, pluginB) as any
    );
    const cC = new Chart(refC.current as HTMLCanvasElement, barConfig() as any);
    return () => {
      cA.destroy();
      cB.destroy();
      cC.destroy();
    };
  }, []);

  return (
    <div style={{ position: 'absolute', left: 0, top: 0, width: 810, height: 1845, background: '#ffffff', overflow: 'hidden' }}>
      <canvas ref={refA} width={810} height={560} style={{ position: 'absolute', left: 0, top: 0, display: 'block' }} />
      <canvas ref={refB} width={810} height={620} style={{ position: 'absolute', left: 0, top: 560, display: 'block' }} />
      <canvas ref={refC} width={810} height={665} style={{ position: 'absolute', left: 0, top: 1180, display: 'block' }} />
    </div>
  );
}
